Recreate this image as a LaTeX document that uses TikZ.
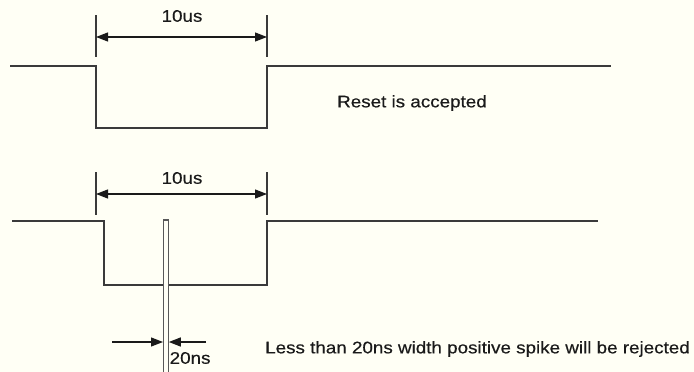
\documentclass[tikz,border=0pt]{standalone}
\usepackage{fontspec}
\setmainfont[FakeStretch=1.12,FakeBold=0.4]{Liberation Sans}
\usetikzlibrary{arrows.meta}
\definecolor{bg}{HTML}{FFFFF5}
\definecolor{wave}{HTML}{3A3A3A}
\definecolor{txt}{HTML}{1A1A1A}
\begin{document}
\begin{tikzpicture}[x=1pt,y=-1pt,
  wavestyle/.style={draw=wave,line width=1.6pt},
  tickstyle/.style={draw=wave,line width=1.3pt},
  dimarrow/.style={draw=txt,line width=1.2pt,-{Triangle[length=12pt,width=9pt]}},
  dimboth/.style={draw=txt,line width=1.2pt,{Triangle[length=12pt,width=9pt]}-{Triangle[length=12pt,width=9pt]}},
  lbl/.style={inner sep=0pt,text=txt,font=\fontsize{16.8}{18}\selectfont}]
\fill[bg] (0,0) rectangle (694,372);
\useasboundingbox (0,0) rectangle (694,372);
% top waveform
\draw[wavestyle] (10,66) -- (96,66) -- (96,128) -- (267,128) -- (267,66) -- (611,66);
\coordinate (t1a) at (96,15); \coordinate (t1b) at (96,57);
\coordinate (t2a) at (267,15); \coordinate (t2b) at (267,57);
\draw[tickstyle] (t1a) -- (t1b);
\draw[tickstyle] (t2a) -- (t2b);
\coordinate (a1) at (96,37); \coordinate (a2) at (267,37);
\draw[dimboth] (a1) -- (a2);
\node[lbl] (l1) at (182,16) {10us};
\node[lbl,anchor=west] (l2) at (337,103) {Reset is accepted};
% bottom waveform
\draw[wavestyle] (12,221) -- (104,221) -- (104,285) -- (267,285) -- (267,221) -- (598,221);
\coordinate (b1a) at (96,172); \coordinate (b1b) at (96,215);
\coordinate (b2a) at (267,172); \coordinate (b2b) at (267,215);
\draw[tickstyle] (b1a) -- (b1b);
\draw[tickstyle] (b2a) -- (b2b);
\coordinate (c1) at (96,194); \coordinate (c2) at (267,194);
\draw[dimboth] (c1) -- (c2);
\node[lbl] (l3) at (182,178) {10us};
% spike
\draw[draw=wave!85,line width=1.5pt,fill=bg] (163.5,373) -- (163.5,220) -- (168.3,220) -- (168.3,373);
\coordinate (s1) at (112,342); \coordinate (s1e) at (163,342);
\coordinate (s2) at (206,342); \coordinate (s2e) at (168.8,342);
\draw[dimarrow] (s1) -- (s1e);
\draw[dimarrow] (s2) -- (s2e);
\node[lbl,anchor=west] (l4) at (169.5,358) {20ns};
\node[lbl,anchor=west] (l5) at (265,349) {Less than 20ns width positive spike will be rejected};
\end{tikzpicture}
\end{document}
